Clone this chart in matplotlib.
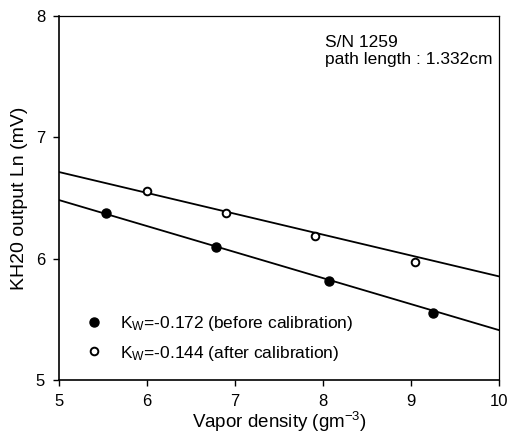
import matplotlib
matplotlib.use("Agg")
import matplotlib.pyplot as plt
import numpy as np

plt.rcParams['font.family'] = ['Liberation Sans', 'DejaVu Sans']
plt.rcParams['mathtext.fontset'] = 'custom'
plt.rcParams['mathtext.rm'] = 'Liberation Sans'
plt.rcParams['mathtext.it'] = 'Liberation Sans'

# data
before_x = [5.53, 6.78, 8.07, 9.25]
before_y = [6.38, 6.10, 5.82, 5.555]
after_x = [6.00, 6.90, 7.91, 9.05]
after_y = [6.555, 6.378, 6.186, 5.97]
fit_x = [5, 10]
fit_before = [6.483, 5.411]
fit_after = [6.714, 5.854]
xticks = [5, 6, 7, 8, 9, 10]
yticks = [5, 6, 7, 8]
label_before = r"K$_\mathrm{W}$=-0.172 (before calibration)"
label_after = r"K$_\mathrm{W}$=-0.144 (after calibration)"

fig = plt.figure(figsize=(5.09, 4.34), dpi=100)
ax = fig.add_axes([59/509, 1-380/434, 440/509, 364/434])

ax.plot(fit_x, fit_before, color='black', lw=1.3)
ax.plot(fit_x, fit_after, color='black', lw=1.3)
ax.plot(before_x, before_y, 'o', color='black', ms=6.5, zorder=3)
ax.plot(after_x, after_y, 'o', mfc='white', mec='black', mew=1.4, ms=5.5, zorder=3)

ax.set_xlim(5, 10)
ax.set_ylim(5, 8)
ax.set_xticks(xticks)
ax.set_yticks(yticks)
ax.tick_params(direction='out', length=4, width=1, labelsize=12)
ax.tick_params(axis='y', pad=6)
ax.tick_params(axis='x', pad=6)
for s in ['left', 'bottom']:
    ax.spines[s].set_linewidth(1.2)
for s in ['top', 'right']:
    ax.spines[s].set_linewidth(0.9)

ax.set_xlabel("Vapor density (gm$^{-3}$)", fontsize=13.5, labelpad=1)
ax.set_ylabel("KH20 output Ln (mV)", fontsize=14, labelpad=6)

ax.text((325-59)/440, 0.948, "S/N 1259\npath length : 1.332cm", transform=ax.transAxes,
        fontsize=12.5, va='top', ha='left', linespacing=1.15)

leg = ax.legend(handles=[ax.lines[2], ax.lines[3]], labels=[label_before, label_after],
                loc='lower left', bbox_to_anchor=(0.025, 0.005), frameon=False,
                fontsize=12.5, handletextpad=1.0, labelspacing=0.6, handlelength=1.0)

fig.savefig("out.png", dpi=100)
